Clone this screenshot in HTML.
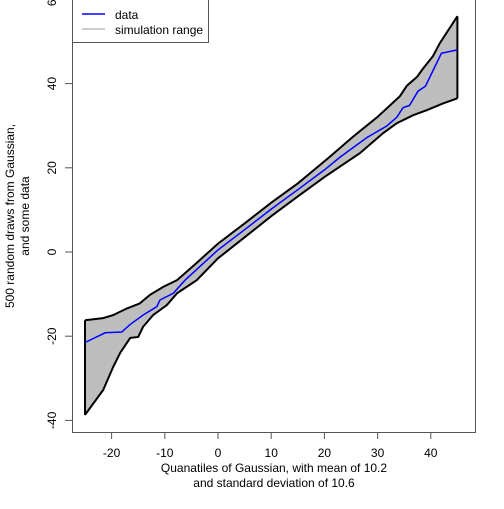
<!DOCTYPE html>
<html><head><meta charset="utf-8"><style>
body{margin:0;background:#fff}
svg text{font-family:"Liberation Sans",Arial,sans-serif;font-size:12px;fill:#000}
</style></head><body>
<svg id="c" width="504" height="504" xmlns="http://www.w3.org/2000/svg"></svg>
<script>
const upX=[-25,-21.6,-19.7,-17.1,-14.7,-12.8,-10.3,-7.7,-4,0,5,10,15,21,25.4,29.9,34.2,35.5,37.4,38.5,40.4,41.7,45];
const upY=[-16.2,-15.7,-15,-13.4,-12.2,-10.2,-8.3,-6.7,-2.6,2,6.8,11.7,16.3,22.6,27.4,32,37,39.5,41.6,43.5,46.5,49.6,56];
const loX=[-25,-21.6,-19.7,-18.4,-16.5,-15,-14.1,-12.2,-9.6,-7.7,-4,0,5,10,15,20,26.7,31,33.6,36.7,39.3,42.3,45];
const loY=[-38.7,-32.8,-27.3,-24,-20.4,-20.2,-17.8,-15,-12.6,-9.8,-6.7,-1.5,3.5,8.5,13.2,17.8,23.5,28.2,30.6,32.5,33.7,35.3,36.5];
const dX=[-25,-21.2,-18.1,-16.5,-14.1,-11.5,-10.9,-8.4,-6.2,0,5,10,15,20,23,28,31.7,33.6,34.8,36,37.6,39,42,45];
const dY=[-21.5,-19.2,-19,-17.2,-15,-13,-11.4,-9.8,-6.7,0.5,5.3,10.2,14.8,19.5,22.6,27.2,29.9,32,34.3,34.8,38.2,39.4,47.2,48];
const xTicks=[-20,-10,0,10,20,30,40];
const yTicks=[-40,-20,0,20,40,60];
const sx=v=>218+5.32*v, sy=v=>252-4.21*v;
const svg=document.getElementById('c');
function el(t,a,txt){const e=document.createElementNS('http://www.w3.org/2000/svg',t);for(const k in a)e.setAttribute(k,a[k]);if(txt!=null)e.textContent=txt;svg.appendChild(e);return e;}
const pts=(X,Y)=>X.map((x,i)=>sx(x).toFixed(1)+','+sy(Y[i]).toFixed(1));
let e=el('polygon',{points:pts(upX,upY).concat(pts(loX,loY).reverse()).join(' '),fill:'#bebebe',stroke:'none'});


e=el('polyline',{points:pts(upX,upY).join(' '),fill:'none',stroke:'#000','stroke-width':2});


e=el('polyline',{points:pts(loX,loY).join(' '),fill:'none',stroke:'#000','stroke-width':2});


e=el('line',{x1:sx(upX[0]),y1:sy(upY[0]),x2:sx(loX[0]),y2:sy(loY[0]),stroke:'#000','stroke-width':2});


e=el('line',{x1:sx(upX[upX.length-1]),y1:sy(upY[upY.length-1]),x2:sx(loX[loX.length-1]),y2:sy(loY[loY.length-1]),stroke:'#000','stroke-width':2});


e=el('polyline',{points:pts(dX,dY).join(' '),fill:'none',stroke:'#0000ff','stroke-width':1.5});


e=el('rect',{x:72.5,y:-1,width:403,height:433.5,fill:'none',stroke:'#555'});


xTicks.forEach(t=>{
  const a=el('line',{x1:sx(t),y1:432,x2:sx(t),y2:439,stroke:'#555'});
  
  
  const b=el('text',{x:sx(t),y:457,'text-anchor':'middle'},String(t));
  
  
});
yTicks.forEach(t=>{
  const a=el('line',{x1:65,y1:sy(t),x2:72,y2:sy(t),stroke:'#555'});
  
  
  const b=el('text',{x:56,y:sy(t),'text-anchor':'middle',transform:`rotate(-90 56 ${sy(t)})`},String(t));
  
  
});
e=el('text',{x:274,y:472,'text-anchor':'middle'},'Quanatiles of Gaussian, with mean of 10.2');


e=el('text',{x:274,y:487,'text-anchor':'middle'},'and standard deviation of 10.6');


e=el('text',{x:14,y:216,'text-anchor':'middle',transform:'rotate(-90 14 216)'},'500 random draws from Gaussian,');


e=el('text',{x:29,y:216,'text-anchor':'middle',transform:'rotate(-90 29 216)'},'and some data');


e=el('rect',{x:72.5,y:-1,width:136,height:43.5,fill:'#fff',stroke:'#555'});


e=el('line',{x1:82,y1:14,x2:105,y2:14,stroke:'#0000ff','stroke-width':1.5});


e=el('text',{x:115,y:19},'data');


e=el('line',{x1:82,y1:29,x2:105,y2:29,stroke:'#bebebe','stroke-width':1.5});


e=el('text',{x:115,y:34},'simulation range');


</script>
</body></html>
